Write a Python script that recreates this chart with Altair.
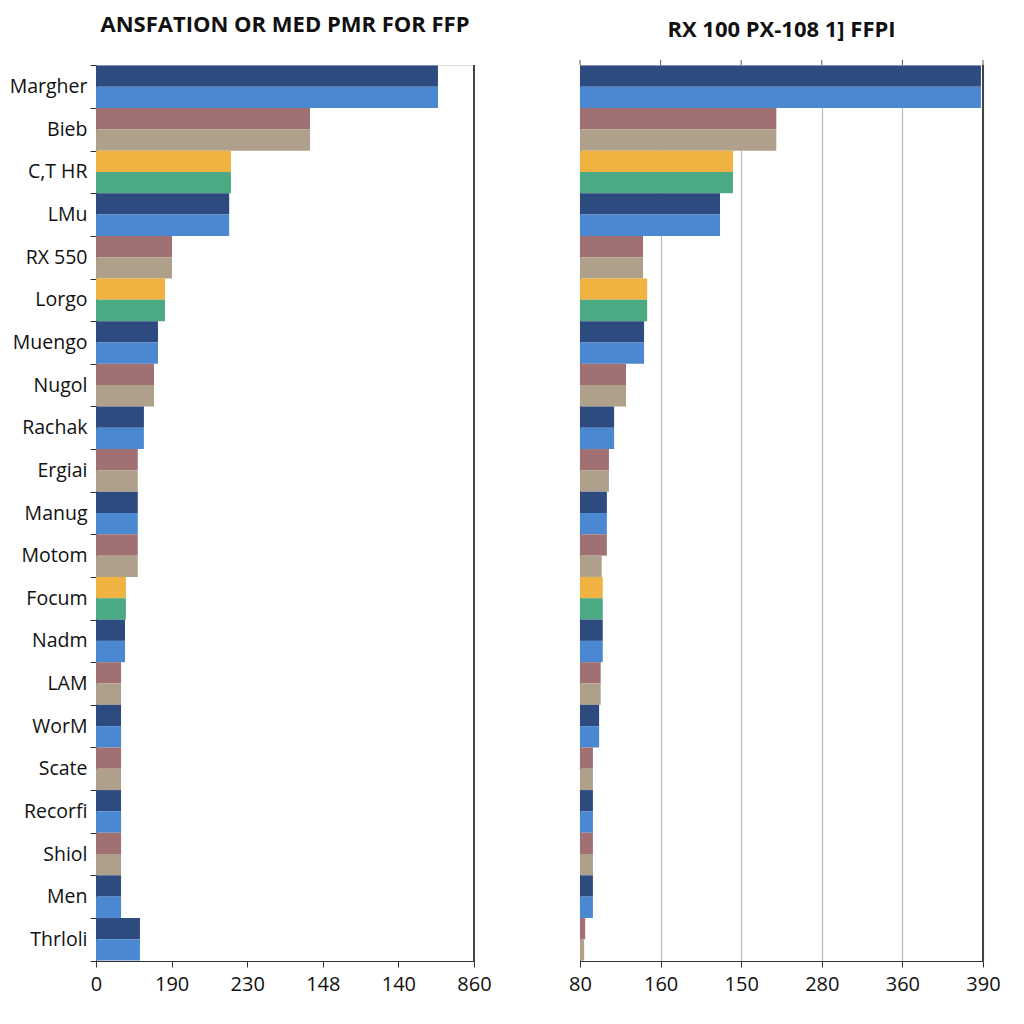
import json
import altair as alt
import pandas as pd

categories = ["Margher", "Bieb", "C,T HR", "LMu", "RX 550", "Lorgo", "Muengo", "Nugol",
              "Rachak", "Ergiai", "Manug", "Motom", "Focum", "Nadm", "LAM", "WorM",
              "Scate", "Recorfi", "Shiol", "Men", "Thrloli"]

left_series = ["blue", "rose", "gold", "blue", "rose", "gold", "blue", "rose", "blue", "rose",
               "blue", "rose", "gold", "blue", "rose", "blue", "rose", "blue", "rose", "blue", "blue"]
right_series = ["blue", "rose", "gold", "blue", "rose", "gold", "blue", "rose", "blue", "rose",
                "blue", "rose", "gold", "blue", "rose", "blue", "rose", "blue", "rose", "blue", "rose"]

left_a = [778, 487, 307, 303, 173, 157, 141, 132, 109, 95, 95, 95, 68, 66, 57, 57, 57, 57, 57, 57, 100]
left_b = [778, 487, 307, 303, 173, 157, 141, 132, 109, 95, 95, 95, 68, 66, 57, 57, 57, 57, 57, 57, 100]
right_a = [388, 190, 148, 135.5, 61, 65, 62, 44.5, 33, 28, 26, 26, 22, 22, 20, 18.5, 12.5, 12.5, 12.5, 12.5, 5]
right_b = [388, 190, 148, 135.5, 61, 65, 62, 44.5, 33, 28, 26, 21, 22, 22, 20, 18.5, 12.5, 12.5, 12.5, 12.5, 4]

left_ticks = [0, 172, 344, 516, 688, 860]
left_tick_labels = ["0", "190", "230", "148", "140", "860"]
right_ticks = [0, 78, 156, 234, 312, 390]
right_tick_labels = ["80", "160", "150", "280", "360", "390"]

left_title = "ANSFATION OR MED PMR FOR FFP"
right_title = "RX 100 PX-108 1] FFPI"

key_domain = ["blue0", "blue1", "rose0", "rose1", "gold0", "gold1"]
key_range = ["#2E4B80", "#4A88D2", "#A07073", "#AFA08C", "#F0B240", "#4BAA84"]

FONT = "Open Sans"
H = 896


def frame(series, a, b):
    rows = []
    for c, s, va, vb in zip(categories, series, a, b):
        rows.append({"category": c, "bar": 0, "value": va, "key": s + "0"})
        rows.append({"category": c, "bar": 1, "value": vb, "key": s + "1"})
    return pd.DataFrame(rows)


def label_expr(ticks, labels):
    return f"{json.dumps(labels)}[indexof({json.dumps(ticks)}, datum.value)]"


def panel(df, ticks, labels, title, width, show_y_labels, grid, top_ticks):
    yscale = alt.Scale(paddingInner=0, paddingOuter=0.01)
    xscale = alt.Scale(domain=[ticks[0], ticks[-1]], nice=False, zero=True)
    if show_y_labels:
        yaxis = alt.Axis(title=None, tickBand="extent", tickSize=6, labelPadding=3,
                         labelFontSize=19.5, labelColor="#111", domainColor="#333",
                         tickColor="#333", labelFont=FONT)
    else:
        yaxis = alt.Axis(title=None, labels=False, ticks=False, domainColor="#333")
    bars = alt.Chart(df).mark_bar(strokeWidth=0).encode(
        y=alt.Y("category:N", sort=categories, scale=yscale, axis=yaxis),
        yOffset=alt.YOffset("bar:O", scale=alt.Scale(paddingInner=0, paddingOuter=0)),
        x=alt.X("value:Q", scale=xscale,
                axis=alt.Axis(values=ticks, labelExpr=label_expr(ticks, labels), title=None,
                              grid=grid, gridColor="#BBBBBB", gridWidth=1.2,
                              tickSize=6, labelPadding=7, labelFontSize=20,
                              labelFont=FONT, labelColor="#111", labelFlush=False,
                              labelOverlap=False, domainColor="#333", tickColor="#333")),
        color=alt.Color("key:N", scale=alt.Scale(domain=key_domain, range=key_range), legend=None),
    )
    border = alt.Chart(df).mark_rule(color="#444", strokeWidth=1.3).encode(
        x=alt.value(width), y=alt.value(0), y2=alt.value(H))
    layers = [bars, border]
    if top_ticks:
        tick_df = pd.DataFrame({"tick": ticks})
        layers.append(alt.Chart(tick_df).mark_rule(color="#555").encode(
            x=alt.X("tick:Q", scale=xscale), y=alt.value(-5), y2=alt.value(0)))
    return alt.layer(*layers).properties(
        width=width, height=H,
        title=alt.TitleParams(title, fontSize=22, font=FONT, fontWeight="bold", anchor="middle",
                              frame="group", color="#111", offset=18),
    )


left = panel(frame(left_series, left_a, left_b), left_ticks, left_tick_labels, left_title,
             378, True, False, False)
right = panel(frame(right_series, right_a, right_b), right_ticks, right_tick_labels, right_title,
              403, False, True, True)

chart = alt.hconcat(left, right, spacing=76).configure_view(stroke=None).configure(
    background="white").properties(padding={"top": 5, "left": 0, "right": 0, "bottom": 0})

chart.save("out.html", embed_options={"renderer": "svg", "actions": False})
